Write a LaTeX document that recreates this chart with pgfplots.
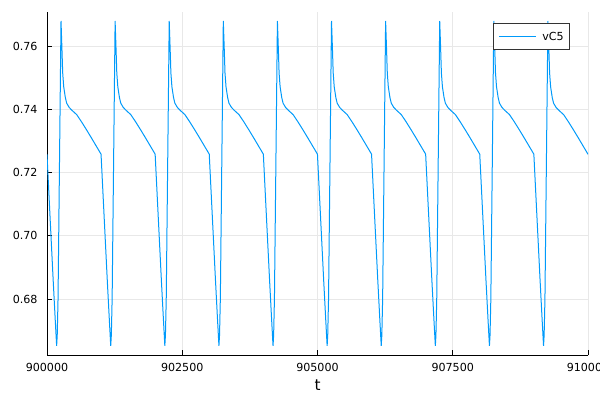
\documentclass[border=0pt]{standalone}
\usepackage{pgfplots}
\pgfplotsset{compat=1.18}
\usepackage{pgfplotstable}
\usepackage{fontspec}
\setmainfont{DejaVu Sans}
\definecolor{series1}{RGB}{0,154,250}
\pgfplotstableread{
t v
900000 0.7257
900059 0.7050
900114 0.6860
900152 0.6735
900178 0.6652
900189 0.6685
900204 0.6800
900259 0.7679
900277 0.7587
900290 0.7515
900309 0.7471
900339 0.7437
900364 0.7419
900409 0.7406
900459 0.7397
900549 0.7383
900639 0.7360
900734 0.7334
900819 0.7310
900909 0.7284
900999 0.7258
901059 0.7050
901114 0.6860
901152 0.6735
901178 0.6652
901189 0.6685
901204 0.6800
901259 0.7679
901277 0.7587
901290 0.7515
901309 0.7471
901339 0.7437
901364 0.7419
901409 0.7406
901459 0.7397
901549 0.7383
901639 0.7360
901734 0.7334
901819 0.7310
901909 0.7284
901999 0.7258
902059 0.7050
902114 0.6860
902152 0.6735
902178 0.6652
902189 0.6685
902204 0.6800
902259 0.7679
902277 0.7587
902290 0.7515
902309 0.7471
902339 0.7437
902364 0.7419
902409 0.7406
902459 0.7397
902549 0.7383
902639 0.7360
902734 0.7334
902819 0.7310
902909 0.7284
902999 0.7258
903059 0.7050
903114 0.6860
903152 0.6735
903178 0.6652
903189 0.6685
903204 0.6800
903259 0.7679
903277 0.7587
903290 0.7515
903309 0.7471
903339 0.7437
903364 0.7419
903409 0.7406
903459 0.7397
903549 0.7383
903639 0.7360
903734 0.7334
903819 0.7310
903909 0.7284
903999 0.7258
904059 0.7050
904114 0.6860
904152 0.6735
904178 0.6652
904189 0.6685
904204 0.6800
904259 0.7679
904277 0.7587
904290 0.7515
904309 0.7471
904339 0.7437
904364 0.7419
904409 0.7406
904459 0.7397
904549 0.7383
904639 0.7360
904734 0.7334
904819 0.7310
904909 0.7284
904999 0.7258
905059 0.7050
905114 0.6860
905152 0.6735
905178 0.6652
905189 0.6685
905204 0.6800
905259 0.7679
905277 0.7587
905290 0.7515
905309 0.7471
905339 0.7437
905364 0.7419
905409 0.7406
905459 0.7397
905549 0.7383
905639 0.7360
905734 0.7334
905819 0.7310
905909 0.7284
905999 0.7258
906059 0.7050
906114 0.6860
906152 0.6735
906178 0.6652
906189 0.6685
906204 0.6800
906259 0.7679
906277 0.7587
906290 0.7515
906309 0.7471
906339 0.7437
906364 0.7419
906409 0.7406
906459 0.7397
906549 0.7383
906639 0.7360
906734 0.7334
906819 0.7310
906909 0.7284
906999 0.7258
907059 0.7050
907114 0.6860
907152 0.6735
907178 0.6652
907189 0.6685
907204 0.6800
907259 0.7679
907277 0.7587
907290 0.7515
907309 0.7471
907339 0.7437
907364 0.7419
907409 0.7406
907459 0.7397
907549 0.7383
907639 0.7360
907734 0.7334
907819 0.7310
907909 0.7284
907999 0.7258
908059 0.7050
908114 0.6860
908152 0.6735
908178 0.6652
908189 0.6685
908204 0.6800
908259 0.7679
908277 0.7587
908290 0.7515
908309 0.7471
908339 0.7437
908364 0.7419
908409 0.7406
908459 0.7397
908549 0.7383
908639 0.7360
908734 0.7334
908819 0.7310
908909 0.7284
908999 0.7258
909059 0.7050
909114 0.6860
909152 0.6735
909178 0.6652
909189 0.6685
909204 0.6800
909259 0.7679
909277 0.7587
909290 0.7515
909309 0.7471
909339 0.7437
909364 0.7419
909409 0.7406
909459 0.7397
909549 0.7383
909639 0.7360
909734 0.7334
909819 0.7310
909909 0.7284
909999 0.7258
910000 0.7257
}\vcfive
\begin{document}
\begin{tikzpicture}
\useasboundingbox (0,0) rectangle (600bp,400bp);
\begin{axis}[
  at={(47bp,44.7bp)}, anchor=south west,
  scale only axis, width=541bp, height=343.3bp,
  xmin=900000, xmax=910000, ymin=0.6622, ymax=0.77075,
  axis x line*=bottom, axis y line*=left,
  every outer x axis line/.append style={-},
  every outer y axis line/.append style={-},
  x axis line style={-}, y axis line style={-},
  axis line style={black, line width=1bp},
  xtick={900000,902500,905000,907500,910000},
  xticklabels={900000,902500,905000,907500,910000},
  ytick={0.68,0.70,0.72,0.74,0.76},
  yticklabels={0.68,0.70,0.72,0.74,0.76},
  scaled x ticks=false, scaled y ticks=false,
  xtick pos=lower, ytick pos=left,
  tick align=inside, major tick length=5bp,
  tick style={black, line width=0.8bp},
  grid=major, major grid style={black!9, line width=0.6bp},
  ticklabel style={font=\fontsize{11.1bp}{13bp}\selectfont},
  xticklabel style={anchor=north, inner sep=0pt, yshift=-7.4bp},
  yticklabel style={anchor=east, inner sep=0pt, xshift=-9.3bp},
  xlabel={t},
  xlabel style={font=\fontsize{15.3bp}{18bp}\selectfont, at={(axis description cs:0.5,0)}, anchor=base, inner sep=0pt, yshift=-34.7bp},
  legend style={at={(0.9667,0.9688)}, anchor=north east, draw=black!80, line width=0.8bp,
    fill=white, inner xsep=5.8bp, inner ysep=9.3bp, column sep=6bp,
    nodes={inner sep=0pt, text height=8bp, text depth=0bp},
    font=\fontsize{11.1bp}{13bp}\selectfont},
  legend image code/.code={\draw[#1] (0bp,0bp) -- (36.7bp,0bp);},
]
\addplot[series1, line width=1bp] table[x=t, y=v] {\vcfive};
\addlegendentry{vC5}
\end{axis}
\end{tikzpicture}
\end{document}
